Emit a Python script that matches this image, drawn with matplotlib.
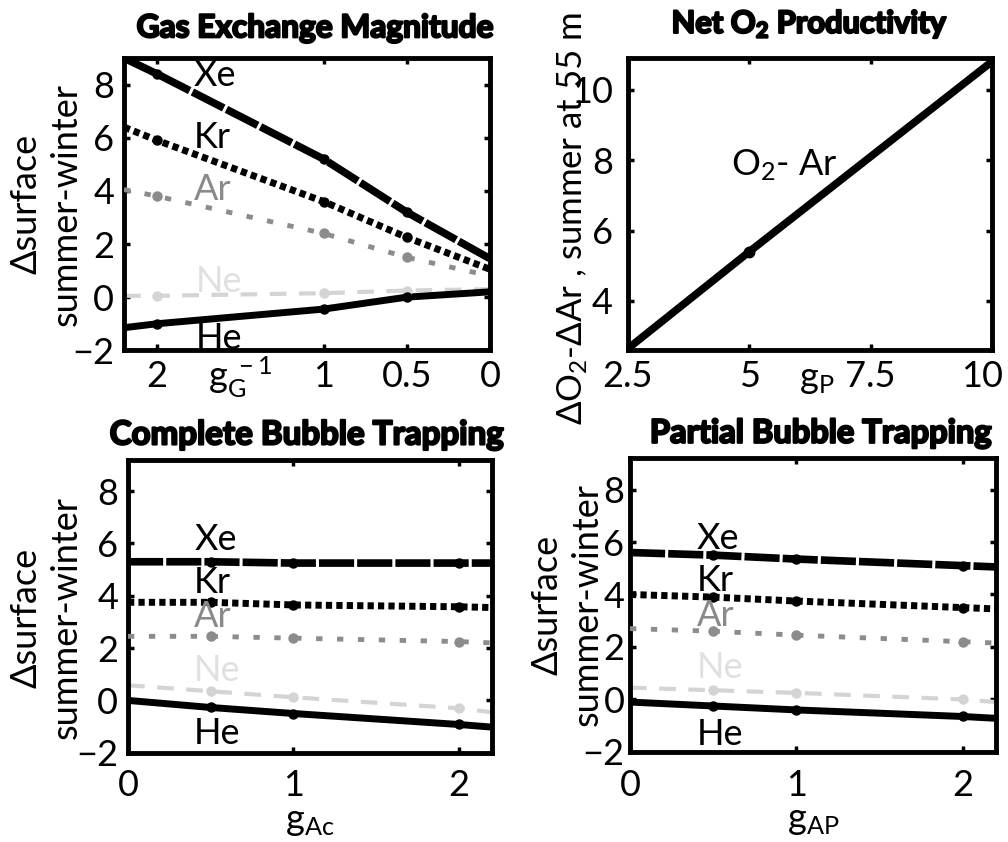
import matplotlib
matplotlib.use("Agg")
import matplotlib.pyplot as plt
import matplotlib.patheffects as pe
from matplotlib.transforms import ScaledTranslation

plt.rcParams["font.family"] = ["Lato", "DejaVu Sans"]
plt.rcParams["mathtext.fontset"] = "custom"
plt.rcParams["mathtext.rm"] = "Lato"
plt.rcParams["mathtext.it"] = "Lato"
plt.rcParams["mathtext.bf"] = "Lato:bold"
plt.rcParams["axes.unicode_minus"] = True

# ---- Gas exchange magnitude (x axis is g_G^-1, plotted reversed) ----
gG_x = [2.2, 2.0, 1.0, 0.5, 0.0]
gG_xe = [9.0, 8.4, 5.2, 3.2, 1.45]
gG_kr = [6.4, 5.9, 3.6, 2.25, 1.05]
gG_ar = [4.05, 3.8, 2.4, 1.5, 0.8]
gG_ne = [0.05, 0.05, 0.15, 0.25, 0.3]
gG_he = [-1.15, -1.0, -0.45, 0.0, 0.2]

# ---- Net O2 productivity ----
gP_x = [2.5, 5.0, 10.0]
gP_o2ar = [2.65, 5.4, 10.8]

# ---- Complete bubble trapping ----
gAc_x = [0.0, 0.5, 1.0, 2.0, 2.2]
gAc_xe = [5.3, 5.3, 5.25, 5.25, 5.25]
gAc_kr = [3.75, 3.75, 3.65, 3.58, 3.55]
gAc_ar = [2.45, 2.45, 2.38, 2.25, 2.2]
gAc_ne = [0.58, 0.35, 0.12, -0.3, -0.45]
gAc_he = [0.0, -0.27, -0.5, -0.92, -1.02]

# ---- Partial bubble trapping ----
gAP_x = [0.0, 0.5, 1.0, 2.0, 2.2]
gAP_xe = [5.6, 5.5, 5.35, 5.1, 5.05]
gAP_kr = [4.0, 3.9, 3.75, 3.5, 3.45]
gAP_ar = [2.7, 2.6, 2.45, 2.2, 2.15]
gAP_ne = [0.45, 0.35, 0.25, 0.0, -0.1]
gAP_he = [-0.1, -0.25, -0.4, -0.65, -0.72]

gases = ["Xe", "Kr", "Ar", "Ne", "He"]

BLACK = "black"
GRAY = "#8c8c8c"
LIGHT = "#d4d4d4"

styles = {
    "Xe": dict(color=BLACK, lw=5.5, dashes=(4.6, 0.4), dash_capstyle="butt"),
    "Kr": dict(color=BLACK, lw=5.0, dashes=(0.9, 0.6), dash_capstyle="butt"),
    "Ar": dict(color=GRAY, lw=3.5, dashes=(1.3, 3.0), dash_capstyle="butt"),
    "Ne": dict(color=LIGHT, lw=3.0, dashes=(4.0, 3.0), dash_capstyle="butt"),
    "He": dict(color=BLACK, lw=5.0, solid_capstyle="butt"),
}
marker_color = {"Xe": BLACK, "Kr": BLACK, "Ar": GRAY, "Ne": LIGHT, "He": BLACK}
text_color = {"Xe": BLACK, "Kr": BLACK, "Ar": "#8a8a8a", "Ne": "#e0e0e0", "He": BLACK}

TICK_FS = 26
title_fx = [pe.withStroke(linewidth=1.6, foreground="black")]

fig = plt.figure(figsize=(10.08, 8.42), dpi=100)


def style_axes(ax):
    for sp in ax.spines.values():
        sp.set_linewidth(3.5)
    ax.tick_params(direction="in", length=4, width=2.5, labelsize=TICK_FS,
                   top=True, right=True, pad=7)


def title(ax, text, size, dx=0.0, pad=13):
    t = ax.set_title(text, fontsize=size, fontweight="bold", pad=pad,
                     x=0.5 + dx)
    t.set_path_effects(title_fx)


def draw_gases(ax, x, series, marker_idx, label_pos):
    for g in gases:
        y = series[g]
        ax.plot(x, y, zorder=3 if g != "Ne" else 2, **styles[g])
        mx = [x[i] for i in marker_idx]
        my = [y[i] for i in marker_idx]
        ax.plot(mx, my, "o", color=marker_color[g], ms=7.5, zorder=4,
                markeredgewidth=0)
        lx, ly = label_pos[g]
        ax.text(lx, ly, g, fontsize=TICK_FS, color=text_color[g],
                ha="left", va="center", zorder=5)


def ylabel_two(ax, xpos, ypos):
    ax.set_ylabel("\u0394surface\nsummer-winter", fontsize=TICK_FS,
                  linespacing=1.25)
    ax.yaxis.set_label_coords(xpos, ypos)


# Panel 1: gas exchange magnitude
ax1 = fig.add_axes([0.123, 0.584, 0.363, 0.347])
draw_gases(ax1, gG_x,
           dict(Xe=gG_xe, Kr=gG_kr, Ar=gG_ar, Ne=gG_ne, He=gG_he),
           [1, 2, 3],
           dict(Xe=(1.78, 8.35), Kr=(1.78, 6.0), Ar=(1.78, 4.05),
                Ne=(1.77, 0.6), He=(1.77, -1.55)))
ax1.set_xlim(2.2, 0)
ax1.set_ylim(-2, 9)
ax1.set_xticks([2, 1, 0.5, 0])
ax1.set_xticklabels(["2", "1", "0.5", "0"])
ax1.set_yticks([-2, 0, 2, 4, 6, 8])
style_axes(ax1)
ylabel_two(ax1, -0.113, 0.5)
title(ax1, "Gas Exchange Magnitude", 22.8, 0.02, pad=15)
ax1.text(1.5, -0.128, r"$\mathregular{g_G^{\ -1}}$", transform=ax1.get_xaxis_transform(),
         fontsize=TICK_FS, ha="center", va="baseline")

# Panel 2: net O2 productivity
ax2 = fig.add_axes([0.623, 0.584, 0.361, 0.347])
ax2.plot(gP_x, gP_o2ar, color=BLACK, lw=5.5, solid_capstyle="butt")
ax2.plot(gP_x[1:2], gP_o2ar[1:2], "o", color=BLACK, ms=7.5)
ax2.set_xlim(2.5, 10)
ax2.set_ylim(2.6, 10.9)
ax2.set_xticks([2.5, 5, 7.5, 10])
ax2.set_xticklabels(["2.5", "5", "7.5", "10"])
ax2.set_yticks([4, 6, 8, 10])
style_axes(ax2)
ax2.tick_params(axis="y", pad=11)
# keep the last x tick label inside the figure
last = ax2.get_xticklabels()[-1]
last.set_transform(last.get_transform() + ScaledTranslation(-0.1, 0, fig.dpi_scale_trans))
ax2.text(4.62, 7.85, r"O$_2$- Ar", fontsize=TICK_FS, ha="left", va="center")
t2 = ax2.set_title(r"Net O$_\mathbf{2}$ Productivity", fontsize=22.2,
                   fontweight="bold", pad=18)
t2.set_path_effects(title_fx)
ax2.text(6.4, -0.128, r"$\mathregular{g_P}$", transform=ax2.get_xaxis_transform(),
         fontsize=TICK_FS, ha="center", va="baseline")
ax2.set_ylabel(r"$\Delta$O$_2$-$\Delta$Ar , summer at 55 m", fontsize=25)
ax2.yaxis.set_label_coords(-0.105, 0.45)

# Panel 3: complete bubble trapping
ax3 = fig.add_axes([0.127, 0.106, 0.361, 0.348])
draw_gases(ax3, gAc_x,
           dict(Xe=gAc_xe, Kr=gAc_kr, Ar=gAc_ar, Ne=gAc_ne, He=gAc_he),
           [1, 2, 3],
           dict(Xe=(0.4, 6.15), Kr=(0.4, 4.5), Ar=(0.4, 3.2),
                Ne=(0.4, 1.15), He=(0.4, -1.27)))
ax3.set_xlim(0, 2.2)
ax3.set_ylim(-2, 9.2)
ax3.set_xticks([0, 1, 2])
ax3.set_yticks([-2, 0, 2, 4, 6, 8])
style_axes(ax3)
ax3.tick_params(axis="x", pad=12)
ylabel_two(ax3, -0.125, 0.46)
title(ax3, "Complete Bubble Trapping", 23.8, -0.01, pad=11)
ax3.set_xlabel(r"$\mathregular{g_{Ac}}$", fontsize=TICK_FS, labelpad=2)

# Panel 4: partial bubble trapping
ax4 = fig.add_axes([0.625, 0.107, 0.363, 0.349])
draw_gases(ax4, gAP_x,
           dict(Xe=gAP_xe, Kr=gAP_kr, Ar=gAP_ar, Ne=gAP_ne, He=gAP_he),
           [1, 2, 3],
           dict(Xe=(0.4, 6.15), Kr=(0.4, 4.55), Ar=(0.4, 3.2),
                Ne=(0.4, 1.2), He=(0.4, -1.33)))
ax4.set_xlim(0, 2.2)
ax4.set_ylim(-2, 9.2)
ax4.set_xticks([0, 1, 2])
ax4.set_yticks([-2, 0, 2, 4, 6, 8])
style_axes(ax4)
ax4.tick_params(axis="x", pad=12)
ax4.tick_params(axis="y", pad=4)
ylabel_two(ax4, -0.072, 0.5)
title(ax4, "Partial Bubble Trapping", 23.5, 0.02, pad=11)
ax4.set_xlabel(r"$\mathregular{g_{AP}}$", fontsize=TICK_FS, labelpad=2)

fig.savefig("out.png", dpi=100)
